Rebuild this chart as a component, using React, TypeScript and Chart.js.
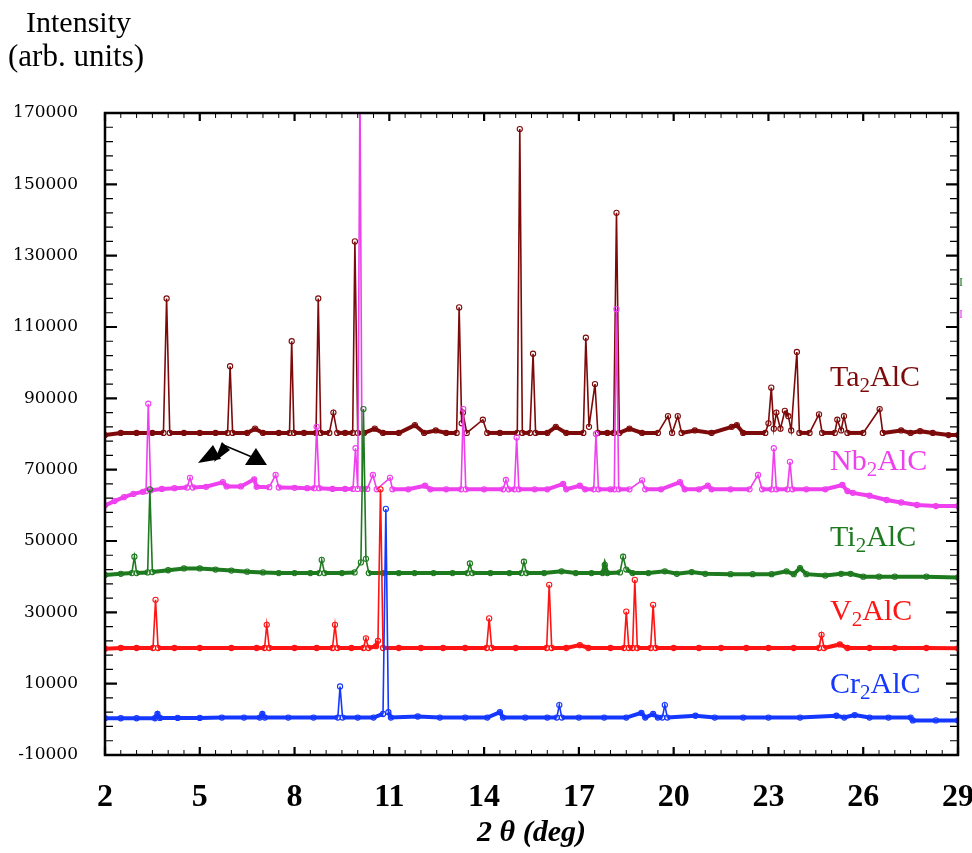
import React, { useEffect, useRef } from "react";
import { Chart, registerables } from "chart.js";
Chart.register(...registerables);

// ---- Data (2θ in degrees, intensity in arb. units, with vertical offsets as plotted) ----
const taX = [2.0, 2.5, 3.0, 3.5, 3.85, 3.95, 4.05, 4.5, 5.0, 5.5, 5.88, 5.96, 6.04, 6.5, 6.75, 7.0, 7.5, 7.84, 7.91, 7.98, 8.3, 8.68, 8.75, 8.83, 9.1, 9.23, 9.35, 9.6, 9.84, 9.91, 10.0, 10.2, 10.54, 10.8, 11.3, 11.81, 12.1, 12.47, 12.8, 13.13, 13.21, 13.29, 13.33, 13.45, 13.96, 14.1, 14.5, 15.05, 15.13, 15.21, 15.45, 15.55, 15.63, 16.0, 16.27, 16.6, 17.14, 17.22, 17.32, 17.51, 17.6, 17.9, 18.1, 18.19, 18.28, 18.6, 19.0, 19.5, 19.82, 19.95, 20.13, 20.25, 20.67, 21.2, 21.84, 22.0, 22.2, 22.9, 23.0, 23.09, 23.17, 23.25, 23.38, 23.52, 23.63, 23.72, 23.9, 23.98, 24.3, 24.6, 24.7, 25.1, 25.18, 25.3, 25.39, 25.5, 26.0, 26.52, 26.62, 27.2, 27.5, 27.8, 28.2, 28.7, 29.0];
const taY = [79700, 80300, 80300, 80300, 80300, 118000, 80300, 80300, 80300, 80300, 80300, 99000, 80300, 80300, 81500, 80300, 80300, 80300, 106000, 80300, 80300, 80300, 118000, 80300, 80300, 86000, 80300, 80300, 80300, 134000, 80300, 80300, 81500, 80300, 80300, 82500, 80300, 81000, 80300, 80300, 115500, 83000, 86000, 80300, 84000, 80300, 80300, 80300, 165500, 80300, 80300, 102500, 80300, 80300, 82000, 80300, 80300, 107000, 82000, 94000, 80300, 80300, 80300, 142000, 80300, 81500, 80300, 80300, 85000, 80300, 85000, 80300, 81000, 80300, 82000, 82500, 80300, 80300, 83000, 93000, 81500, 86000, 81500, 86500, 85000, 81000, 103000, 80300, 80300, 85500, 80300, 80300, 84000, 81000, 85000, 80300, 80300, 87000, 80300, 81000, 80300, 80800, 80300, 79700, 79700];

const nbX = [2.0, 2.3, 2.6, 2.9, 3.2, 3.3, 3.37, 3.45, 3.8, 4.2, 4.6, 4.69, 4.78, 5.2, 5.73, 5.85, 6.3, 6.72, 6.8, 7.2, 7.4, 7.5, 8.0, 8.4, 8.63, 8.7, 8.78, 9.2, 9.6, 9.85, 9.93, 10.0, 10.07, 10.14, 10.3, 10.48, 10.6, 11.02, 11.1, 11.6, 12.13, 12.3, 12.8, 13.27, 13.34, 13.42, 14.0, 14.6, 14.69, 14.78, 14.96, 15.03, 15.1, 15.6, 16.0, 16.5, 16.6, 17.03, 17.2, 17.47, 17.54, 17.62, 18.0, 18.12, 18.19, 18.26, 18.6, 19.0, 19.1, 19.6, 20.2, 20.35, 20.8, 21.08, 21.2, 21.8, 22.4, 22.67, 22.8, 23.1, 23.17, 23.25, 23.6, 23.68, 23.76, 24.2, 24.8, 25.34, 25.5, 25.67, 26.2, 26.74, 27.2, 27.7, 28.3, 29.0];
const nbY = [60000, 61200, 62300, 63200, 63800, 64000, 88500, 64200, 64600, 64800, 65000, 67700, 65000, 65200, 66500, 65300, 65300, 67300, 65200, 65100, 68500, 65000, 64900, 64800, 64800, 82000, 64800, 64600, 64600, 64600, 76000, 64600, 178000, 64600, 64600, 68500, 64500, 67700, 64500, 64500, 65500, 64500, 64500, 64500, 87000, 64500, 64500, 64500, 67100, 64500, 64500, 79000, 64500, 64500, 64500, 66000, 64500, 65500, 64500, 64500, 80000, 64500, 64500, 64500, 115000, 64500, 64500, 67000, 64500, 64500, 66500, 64500, 64500, 65500, 64500, 64500, 64500, 68500, 64500, 64500, 76000, 64500, 64500, 72200, 64500, 64500, 64500, 65700, 64000, 63500, 62700, 61500, 60800, 60100, 59800, 59800];

const tiX = [2.0, 2.5, 2.85, 2.93, 3.0, 3.35, 3.42, 3.5, 4.0, 4.5, 5.0, 5.5, 6.0, 6.5, 7.0, 7.5, 8.0, 8.5, 8.78, 8.86, 8.95, 9.5, 9.9, 10.1, 10.18, 10.26, 10.35, 10.8, 11.3, 11.8, 12.4, 13.0, 13.47, 13.55, 13.63, 14.2, 14.8, 15.18, 15.26, 15.34, 15.9, 16.45, 16.9, 17.4, 17.75, 17.82, 17.9, 18.3, 18.4, 18.5, 18.7, 19.2, 19.72, 20.1, 20.57, 21.0, 21.8, 22.5, 23.1, 23.57, 23.8, 24.0, 24.2, 24.8, 25.3, 25.6, 26.0, 26.5, 27.0, 28.0, 29.0];
const tiY = [40500, 40800, 41000, 45600, 41000, 41200, 64500, 41300, 41800, 42300, 42300, 42000, 41700, 41400, 41200, 41000, 41000, 41000, 41000, 44700, 41000, 41000, 41200, 44000, 87000, 45000, 41000, 41000, 41000, 41000, 41000, 41000, 41000, 43700, 41000, 41000, 41000, 41000, 44200, 41000, 41000, 41500, 41000, 41000, 41000, 43300, 41000, 41200, 45600, 42000, 41000, 41000, 41500, 40800, 41300, 40800, 40700, 40700, 40700, 41500, 40700, 42400, 40700, 40300, 40800, 40800, 40000, 40000, 40000, 40000, 39800];

const vX = [2.0, 2.5, 3.0, 3.52, 3.6, 3.68, 4.2, 5.0, 6.0, 6.8, 7.05, 7.12, 7.2, 8.0, 8.7, 9.2, 9.28, 9.36, 9.8, 10.18, 10.26, 10.34, 10.58, 10.64, 10.72, 10.8, 11.3, 12.0, 12.7, 13.4, 14.08, 14.16, 14.24, 15.0, 15.98, 16.06, 16.14, 16.6, 17.03, 17.3, 18.0, 18.43, 18.5, 18.58, 18.7, 18.77, 18.85, 19.27, 19.35, 19.43, 20.0, 20.8, 21.5, 22.3, 23.0, 23.8, 24.6, 24.68, 24.76, 25.26, 25.5, 26.2, 27.0, 28.0, 29.0];
const vY = [19800, 20000, 20000, 20000, 33500, 20000, 20000, 20000, 20000, 20000, 20000, 26500, 20000, 20000, 20000, 20000, 26500, 20000, 20000, 20000, 22700, 20000, 20500, 22000, 64500, 20000, 20000, 20000, 20000, 20000, 20000, 28300, 20000, 20000, 20000, 37700, 20000, 20000, 20800, 20000, 20000, 20000, 30200, 20000, 20000, 39100, 20000, 20000, 32100, 20000, 20000, 20000, 20000, 20000, 20000, 20000, 20000, 23700, 20000, 21000, 20000, 20000, 20000, 20000, 19900];

const crX = [2.0, 2.5, 3.0, 3.58, 3.66, 3.74, 4.3, 5.0, 5.7, 6.4, 6.9, 6.98, 7.06, 7.8, 8.6, 9.37, 9.44, 9.52, 10.0, 10.5, 10.8, 10.89, 10.97, 11.05, 11.9, 12.6, 13.4, 14.1, 14.5, 14.6, 15.3, 16.0, 16.3, 16.38, 16.46, 17.0, 17.8, 18.5, 18.98, 19.1, 19.35, 19.5, 19.64, 19.72, 19.8, 20.69, 21.3, 22.2, 23.0, 24.0, 25.15, 25.4, 25.73, 26.2, 26.8, 27.5, 27.57, 28.3, 29.0];
const crY = [300, 300, 300, 300, 1500, 400, 400, 400, 500, 500, 500, 1500, 500, 500, 500, 500, 9200, 500, 500, 500, 1500, 59000, 2000, 500, 800, 500, 500, 500, 2000, 500, 500, 500, 500, 4000, 500, 500, 500, 500, 1800, 500, 1500, 500, 500, 4000, 500, 1000, 500, 500, 500, 500, 1000, 500, 1200, 500, 500, 500, -300, -300, -300];

const xTickStep = 3;
const yTickStep = 20000;

// series labels: [main, subscript, rest]
const seriesNames = [
  ["Ta", "2", "AlC"],
  ["Nb", "2", "AlC"],
  ["Ti", "2", "AlC"],
  ["V", "2", "AlC"],
  ["Cr", "2", "AlC"],
];
const seriesColors = ["#7d0a0a", "#ee40ee", "#1e7a1e", "#ff1414", "#1438ff"];
const labelX = 24.95;
const labelY = [93500, 69900, 48600, 27900, 7400];

const FONT_SERIF = "'Liberation Serif', 'Times New Roman', serif";

const framePlugin = {
  id: "framePlugin",
  afterDatasetsDraw(chart: any) {
    const { ctx, chartArea, scales } = chart;
    const { left, right, top, bottom } = chartArea;
    const xs = scales.x;
    const ys = scales.y;
    ctx.save();

    // arrow annotation (black)
    const P = (x: number, y: number) => [xs.getPixelForValue(x), ys.getPixelForValue(y)];
    const tris = [
      [[4.943, 71880], [5.418, 76920], [5.671, 73000]],
      [[5.449, 72160], [5.703, 77760], [5.956, 75520]],
      [[6.43, 71320], [7.127, 71320], [6.778, 76080]],
    ];
    ctx.fillStyle = "#000";
    for (const t of tris) {
      ctx.beginPath();
      t.forEach((p, i) => {
        const [px, py] = P(p[0], p[1]);
        if (i === 0) ctx.moveTo(px, py);
        else ctx.lineTo(px, py);
      });
      ctx.closePath();
      ctx.fill();
    }
    ctx.strokeStyle = "#000";
    ctx.lineWidth = 1.5;
    ctx.beginPath();
    let [ax, ay] = P(5.671, 77200);
    ctx.moveTo(ax, ay);
    [ax, ay] = P(6.652, 73560);
    ctx.lineTo(ax, ay);
    ctx.stroke();

    // series labels
    seriesNames.forEach((parts, i) => {
      let x = xs.getPixelForValue(labelX);
      const y = ys.getPixelForValue(labelY[i]);
      ctx.fillStyle = seriesColors[i];
      ctx.textAlign = "left";
      ctx.textBaseline = "alphabetic";
      ctx.font = `30px ${FONT_SERIF}`;
      ctx.fillText(parts[0], x, y);
      x += ctx.measureText(parts[0]).width;
      ctx.font = `21px ${FONT_SERIF}`;
      ctx.fillText(parts[1], x, y + 6);
      x += ctx.measureText(parts[1]).width;
      ctx.font = `30px ${FONT_SERIF}`;
      ctx.fillText(parts[2], x, y);
    });

    // frame
    ctx.strokeStyle = "#000";
    ctx.lineWidth = 2.5;
    ctx.strokeRect(left, top, right - left, bottom - top);

    // x ticks (inward, bottom & top)
    for (let k = 0; k <= 54; k++) {
      const v = 2 + k * 0.5;
      const px = xs.getPixelForValue(v);
      const major = k % 6 === 0;
      const len = major ? 8 : 5;
      ctx.lineWidth = major ? 2.2 : 1;
      ctx.beginPath();
      ctx.moveTo(px, bottom);
      ctx.lineTo(px, bottom - len);
      ctx.moveTo(px, top);
      ctx.lineTo(px, top + len);
      ctx.stroke();
    }
    // y ticks (inward, left & right)
    for (let k = 0; k <= 45; k++) {
      const v = -10000 + k * 4000;
      const py = ys.getPixelForValue(v);
      const major = k % 5 === 0;
      const len = major ? 12 : 8;
      ctx.lineWidth = major ? 2.2 : 1.2;
      ctx.beginPath();
      ctx.moveTo(left, py);
      ctx.lineTo(left + len, py);
      ctx.moveTo(right, py);
      ctx.lineTo(right - len, py);
      ctx.stroke();
    }

    // small cut-off legend fragments at the right edge
    ctx.font = `12px ${FONT_SERIF}`;
    ctx.textAlign = "left";
    ctx.textBaseline = "middle";
    ctx.fillStyle = "#1e7a1e";
    ctx.fillText("I", right + 1, ys.getPixelForValue(122500));
    ctx.fillStyle = "#ee40ee";
    ctx.fillText("I", right + 1, ys.getPixelForValue(113500));

    // y-axis caption
    ctx.fillStyle = "#000";
    ctx.textBaseline = "alphabetic";
    ctx.font = `30px ${FONT_SERIF}`;
    ctx.fillText("Intensity", 26, 32);
    ctx.font = `31px ${FONT_SERIF}`;
    ctx.fillText("(arb. units)", 8, 66);
    ctx.restore();
  },
};

function toPoints(xs: number[], ys: number[]) {
  return xs.map((x, i) => ({ x, y: ys[i] }));
}

export default function App() {
  const ref = useRef<HTMLCanvasElement>(null);
  useEffect(() => {
    if (!ref.current) return;
    const all = [
      { label: "Cr2AlC", data: toPoints(crX, crY), color: seriesColors[4] },
      { label: "V2AlC", data: toPoints(vX, vY), color: seriesColors[3] },
      { label: "Ti2AlC", data: toPoints(tiX, tiY), color: seriesColors[2] },
      { label: "Nb2AlC", data: toPoints(nbX, nbY), color: seriesColors[1] },
      { label: "Ta2AlC", data: toPoints(taX, taY), color: seriesColors[0] },
    ];
    const chart = new Chart(ref.current, {
      type: "line",
      data: {
        datasets: all.map((s) => ({
          label: s.label,
          data: s.data,
          borderColor: s.color,
          borderWidth: 2,
          segment: {
            borderWidth: (c: any) =>
              Math.abs(c.p1.parsed.y - c.p0.parsed.y) < 2500 ? 4 : 1.6,
          },
          pointRadius: 2.6,
          pointBorderWidth: 1.1,
          pointBorderColor: s.color,
          pointBackgroundColor: "rgba(255,255,255,0)",
          pointStyle: "circle",
          tension: 0,
          fill: false,
        })),
      },
      options: {
        animation: false,
        responsive: false,
        devicePixelRatio: 1,
        layout: { padding: { left: 0, right: 14, top: 113, bottom: 0 } },
        plugins: { legend: { display: false }, tooltip: { enabled: false } },
        scales: {
          x: {
            type: "linear",
            min: 2,
            max: 29,
            ticks: {
              stepSize: xTickStep,
              color: "#000",
              font: { family: FONT_SERIF, size: 32, weight: "bold" },
              padding: 24,
              maxRotation: 0,
              autoSkip: false,
              callback: (v: any) => String(v),
            },
            grid: { display: false, drawTicks: false },
            border: { display: false },
            title: {
              display: true,
              text: "2 θ (deg)",
              color: "#000",
              font: { family: FONT_SERIF, size: 30, style: "italic", weight: "bold" },
              padding: { top: 0, bottom: 2 },
            },
            afterFit: (s: any) => {
              s.height = 98;
              s.paddingLeft = 0;
              s.paddingRight = 0;
            },
          },
          y: {
            type: "linear",
            min: -10000,
            max: 170000,
            ticks: {
              stepSize: yTickStep,
              color: "#000",
              font: { family: "'DejaVu Serif', serif", size: 17 },
              padding: 27,
              callback: (v: any) => String(v),
            },
            grid: { display: false, drawTicks: false },
            border: { display: false },
            afterFit: (s: any) => {
              s.width = 105;
              s.paddingTop = 0;
              s.paddingBottom = 0;
            },
          },
        },
      } as any,
      plugins: [framePlugin],
    });
    return () => chart.destroy();
  }, []);
  return (
    <div style={{ position: "absolute", left: 0, top: 0, width: 972, height: 853, background: "#fff" }}>
      <canvas ref={ref} width={972} height={853} style={{ display: "block" }} />
    </div>
  );
}
